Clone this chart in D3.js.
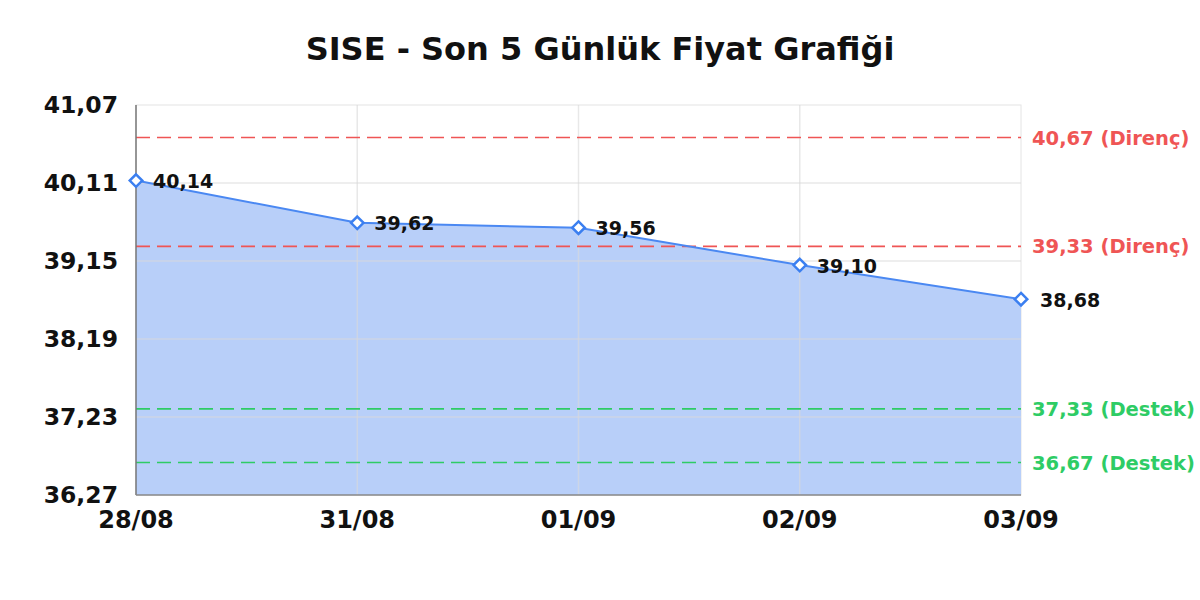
<!DOCTYPE html>
<html>
<head>
<meta charset="utf-8">
<script src="https://cdn.jsdelivr.net/npm/d3@7"></script>
<style>
  body { margin: 0; background: #fff; }
  text { font-family: "DejaVu Sans", sans-serif; font-weight: bold; }
</style>
</head>
<body>
<svg id="chart" width="1200" height="600"></svg>
<script>
// chart data
const dates = ["28/08", "31/08", "01/09", "02/09", "03/09"];
const prices = [40.14, 39.62, 39.56, 39.10, 38.68];
const yTicks = [36.27, 37.23, 38.19, 39.15, 40.11, 41.07];
const resistance = [40.67, 39.33];
const support = [37.33, 36.67];

const MARGIN = { top: 105, right: 179, bottom: 105, left: 136 };
const WIDTH = 1200 - MARGIN.left - MARGIN.right;
const HEIGHT = 600 - MARGIN.top - MARGIN.bottom;

const fmt = v => v.toFixed(2).replace(".", ",");

const svg = d3.select("#chart");

svg.append("text")
    .attr("x", 600)
    .attr("y", 60)
    .attr("text-anchor", "middle")
    .style("font-size", "32px")
    .attr("fill", "#111")
    .text("SISE - Son 5 Günlük Fiyat Grafiği");

const g = svg.append("g")
    .attr("transform", `translate(${MARGIN.left},${MARGIN.top})`);

const xScale = d3.scalePoint()
    .domain(dates)
    .range([0, WIDTH]);

const yScale = d3.scaleLinear()
    .domain([36.27, 41.07])
    .range([HEIGHT, 0]);

// frame and grid
g.append("rect")
    .attr("width", WIDTH)
    .attr("height", HEIGHT)
    .attr("fill", "#fff")
    .attr("stroke", "#e4e4e4");

// area
const area = d3.area()
    .x((d, i) => xScale(dates[i]))
    .y0(HEIGHT)
    .y1(d => yScale(d));

g.append("path")
    .attr("d", area(prices))
    .attr("fill", "#b8cff9");

g.selectAll("line.hgrid")
    .data(yTicks.slice(1, -1))
    .join("line")
    .attr("class", "hgrid")
    .attr("x1", 0)
    .attr("x2", WIDTH)
    .attr("y1", d => yScale(d))
    .attr("y2", d => yScale(d))
    .attr("stroke", "#d8d8d8")
    .attr("stroke-opacity", 0.6)
    .attr("stroke-width", 1.5);

g.selectAll("line.vgrid")
    .data(dates.slice(1, -1))
    .join("line")
    .attr("class", "vgrid")
    .attr("x1", d => xScale(d))
    .attr("x2", d => xScale(d))
    .attr("y1", 0)
    .attr("y2", HEIGHT)
    .attr("stroke", "#d8d8d8")
    .attr("stroke-opacity", 0.6)
    .attr("stroke-width", 1.5);

// resistance / support lines
function levelLines(values, colr, word) {
    g.selectAll(null)
        .data(values)
        .join("line")
        .attr("x1", 0)
        .attr("x2", WIDTH)
        .attr("y1", d => yScale(d))
        .attr("y2", d => yScale(d))
        .attr("stroke", colr)
        .attr("stroke-width", 1.6)
        .attr("stroke-dasharray", "14,7");
    g.selectAll(null)
        .data(values)
        .join("text")
        .attr("x", WIDTH + 11)
        .attr("y", d => yScale(d))
        .attr("dy", "0.36em")
        .attr("fill", colr)
        .style("font-size", "19.5px")
        .text(d => `${fmt(d)} (${word})`);
}
levelLines(resistance, "#ef5555", "Direnç");
levelLines(support, "#2ecc65", "Destek");

// price line
const line = d3.line()
    .x((d, i) => xScale(dates[i]))
    .y(d => yScale(d));

g.append("path")
    .attr("d", line(prices))
    .attr("fill", "none")
    .attr("stroke", "#4a88f2")
    .attr("stroke-width", 2);

// axes lines
g.append("line")
    .attr("x1", 0).attr("x2", 0)
    .attr("y1", 0).attr("y2", HEIGHT)
    .attr("stroke", "#777")
    .attr("stroke-width", 1.5);
g.append("line")
    .attr("x1", 0).attr("x2", WIDTH)
    .attr("y1", HEIGHT).attr("y2", HEIGHT)
    .attr("stroke", "#888")
    .attr("stroke-width", 1.5);

// markers
const diamond = d3.symbol().type(d3.symbolDiamond2).size(100);
g.selectAll("path.marker")
    .data(prices)
    .join("path")
    .attr("class", "marker")
    .attr("d", diamond)
    .attr("transform", (d, i) => `translate(${xScale(dates[i])},${yScale(d)})`)
    .attr("fill", "#fff")
    .attr("stroke", "#3b7ff0")
    .attr("stroke-width", 2.5);

g.selectAll("text.value")
    .data(prices)
    .join("text")
    .attr("class", "value")
    .attr("x", (d, i) => xScale(dates[i]) + (i === prices.length - 1 ? 19 : 17))
    .attr("y", d => yScale(d))
    .attr("dy", "0.4em")
    .attr("fill", "#111")
    .style("font-size", "19px")
    .text(d => fmt(d));

// tick labels
g.selectAll("text.ytick")
    .data(yTicks)
    .join("text")
    .attr("class", "ytick")
    .attr("x", -18)
    .attr("y", d => yScale(d))
    .attr("dy", "0.36em")
    .attr("text-anchor", "end")
    .attr("fill", "#111")
    .style("font-size", "23.5px")
    .text(d => fmt(d));

g.selectAll("text.xtick")
    .data(dates)
    .join("text")
    .attr("class", "xtick")
    .attr("x", d => xScale(d))
    .attr("y", HEIGHT + 33)
    .attr("text-anchor", "middle")
    .attr("fill", "#111")
    .style("font-size", "24px")
    .text(d => d);
</script>
</body>
</html>
